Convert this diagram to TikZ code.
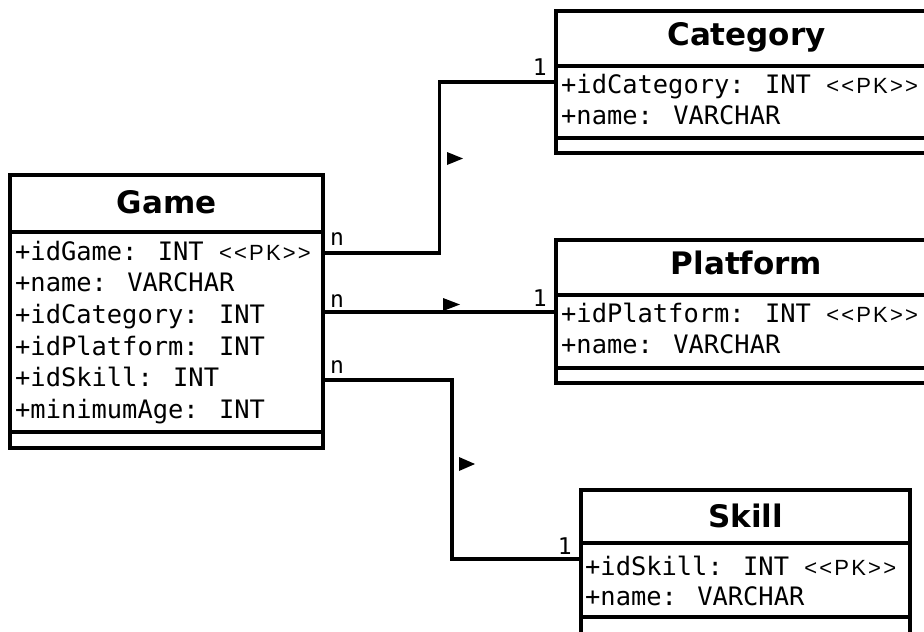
\documentclass[tikz,border=0pt]{standalone}
\usepackage{fontspec}
\setmainfont{DejaVu Sans}
\newfontfamily\attrfont[Ligatures=TeXOff]{DejaVu Sans Mono}
\newfontfamily\stereofont[LetterSpace=10,Ligatures=TeXOff]{Liberation Sans}
\usetikzlibrary{calc}

% stereotype marker for primary keys
\newcommand{\pkmark}{{\stereofont\fontsize{22}{26}\selectfont <<PK>>}}

\tikzset{
  part/.style={draw, line width=3.4pt, anchor=north west, inner sep=0pt, outer sep=0pt},
  classname/.style={font=\fontsize{31}{37}\selectfont\bfseries, anchor=base, inner sep=0pt},
  attr/.style={font=\attrfont\fontsize{25.4}{31}\selectfont, anchor=base west, inner sep=0pt},
  mult/.style={font=\attrfont\fontsize{23}{27}\selectfont, inner sep=0pt},
  conn/.style={line width=3.4pt},
  dirmark/.style={fill=black}
}

\begin{document}
\begin{tikzpicture}[x=1pt,y=-1pt]
\useasboundingbox (0,0) rectangle (924,632);
\clip (0,0) rectangle (924,632);

% ---- Game ----
\node[part, minimum width=313, minimum height=57]  (gameT) at (10,175) {};
\node[part, minimum width=313, minimum height=200] (gameA) at (gameT.south west) {};
\node[part, minimum width=313, minimum height=16]  (gameM) at (gameA.south west) {};
\node[classname] (gameName) at (166.5,213) {Game};
\node[attr] (gameA1) at (15,260)   {+idGame: INT \pkmark};
\node[attr] (gameA2) at (15,291.7) {+name: VARCHAR};
\node[attr] (gameA3) at (15,323)   {+idCategory: INT};
\node[attr] (gameA4) at (15,355)   {+idPlatform: INT};
\node[attr] (gameA5) at (15,386.7) {+idSkill: INT};
\node[attr] (gameA6) at (15,418)   {+minimumAge: INT};

% ---- Category ----
\node[part, minimum width=381, minimum height=55] (catT) at (556,11) {};
\node[part, minimum width=381, minimum height=72] (catA) at (catT.south west) {};
\node[part, minimum width=381, minimum height=15] (catM) at (catA.south west) {};
\node[classname] (catName) at (746.5,45.5) {Category};
\node[attr] (catA1) at (561,93.5) {+idCategory: INT \pkmark};
\node[attr] (catA2) at (561,124)  {+name: VARCHAR};

% ---- Platform ----
\node[part, minimum width=381, minimum height=55] (platT) at (556,240) {};
\node[part, minimum width=381, minimum height=73] (platA) at (platT.south west) {};
\node[part, minimum width=381, minimum height=15] (platM) at (platA.south west) {};
\node[classname] (platName) at (746.5,274.5) {Platform};
\node[attr] (platA1) at (561,322.5) {+idPlatform: INT \pkmark};
\node[attr] (platA2) at (561,353.5) {+name: VARCHAR};

% ---- Skill ----
\node[part, minimum width=329, minimum height=53] (skillT) at (581,490) {};
\node[part, minimum width=329, minimum height=74] (skillA) at (skillT.south west) {};
\node[part, minimum width=329, minimum height=17] (skillM) at (skillA.south west) {};
\node[classname] (skillName) at (745.5,527) {Skill};
\node[attr] (skillA1) at (585,575) {+idSkill: INT \pkmark};
\node[attr] (skillA2) at (585,605) {+name: VARCHAR};

% ---- associations ----
\coordinate (gC) at ($(gameA.north east)+(0,21)$);
\coordinate (gP) at ($(gameA.north east)+(0,80)$);
\coordinate (gS) at ($(gameA.north east)+(0,148)$);
\coordinate (cG) at ($(catA.north west)+(0,16)$);
\coordinate (pG) at ($(platA.north west)+(0,17)$);
\coordinate (sG) at ($(skillA.north west)+(0,16)$);

\draw[conn] (gC) -| ($(gC)!0.5!(cG)$) |- (cG);
\draw[conn] (gP) -- (pG);
\draw[conn] (gS) -| ($(gS)!0.5!(sG)$) |- (sG);

% reading-direction markers
\fill[dirmark] (447,152) -- (463,158.5) -- (447,165) -- cycle;
\fill[dirmark] (443,298) -- (460,304.5) -- (443,311) -- cycle;
\fill[dirmark] (459,457) -- (475,464) -- (459,471) -- cycle;

% multiplicities
\node[mult, anchor=base west] (mGC) at (330,245) {n};
\node[mult, anchor=base west] (mGP) at (330,307) {n};
\node[mult, anchor=base west] (mGS) at (330,373) {n};
\node[mult, anchor=base east] (mCG) at (547,75)  {1};
\node[mult, anchor=base east] (mPG) at (547,306) {1};
\node[mult, anchor=base east] (mSG) at (572,554) {1};
\end{tikzpicture}
\end{document}
